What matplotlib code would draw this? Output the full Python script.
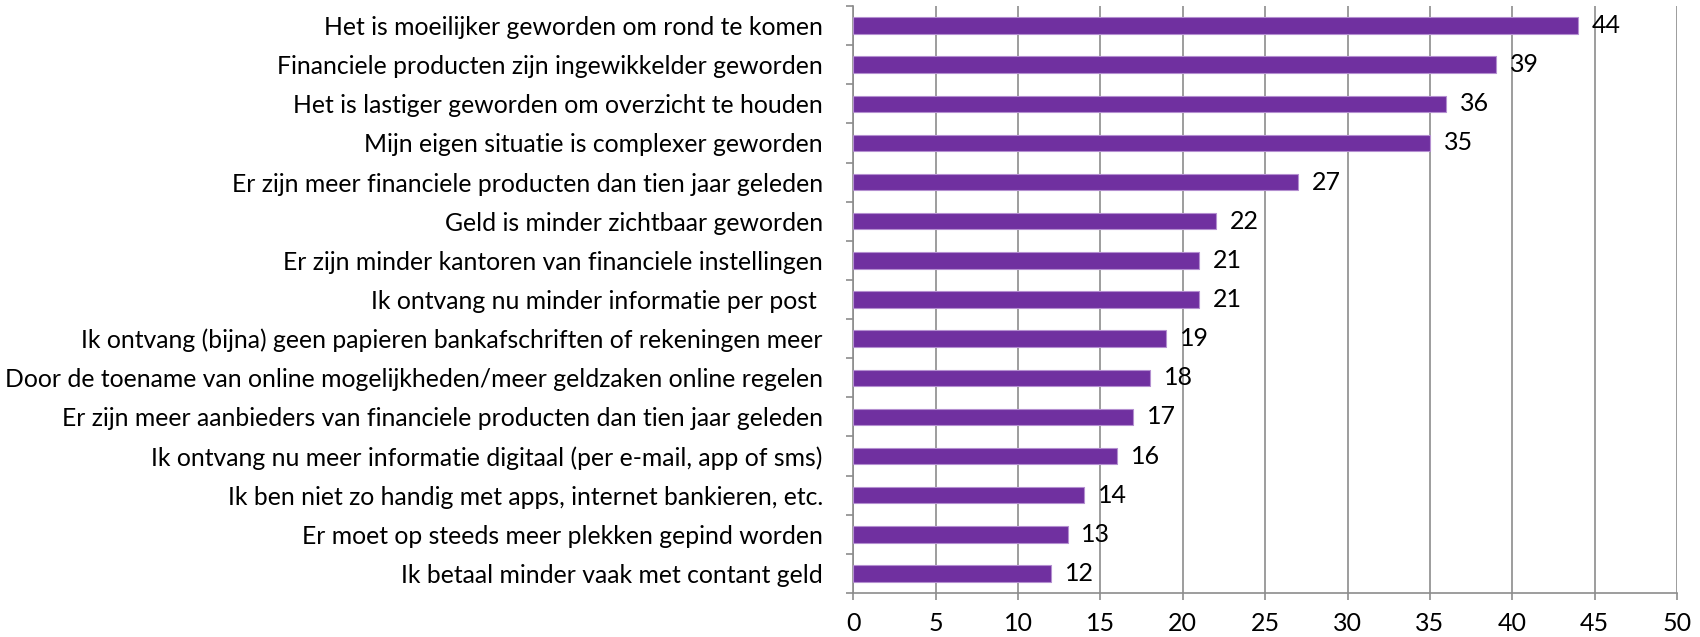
import numpy as np
import matplotlib.pyplot as plt

labels = [
    "Het is moeilijker geworden om rond te komen",
    "Financiele producten zijn ingewikkelder geworden",
    "Het is lastiger geworden om overzicht te houden",
    "Mijn eigen situatie is complexer geworden",
    "Er zijn meer financiele producten dan tien jaar geleden",
    "Geld is minder zichtbaar geworden",
    "Er zijn minder kantoren van financiele instellingen",
    "Ik ontvang nu minder informatie per post ",
    "Ik ontvang (bijna) geen papieren bankafschriften of rekeningen meer",
    "Door de toename van online mogelijkheden/meer geldzaken online regelen",
    "Er zijn meer aanbieders van financiele producten dan tien jaar geleden",
    "Ik ontvang nu meer informatie digitaal (per e-mail, app of sms)",
    "Ik ben niet zo handig met apps, internet bankieren, etc.",
    "Er moet op steeds meer plekken gepind worden",
    "Ik betaal minder vaak met contant geld",
]
values = [44, 39, 36, 35, 27, 22, 21, 21, 19, 18, 17, 16, 14, 13, 12]
xticks = [0, 5, 10, 15, 20, 25, 30, 35, 40, 45, 50]

plt.rcParams['font.family'] = ['Lato', 'DejaVu Sans']

fig = plt.figure(figsize=(17, 6.37), dpi=100)
ax = fig.add_axes([0.502, 0.069, 0.4845, 0.9216])

y = np.arange(len(labels))
ax.barh(y, values, height=0.42, color='#7030A0', edgecolor='#B48FD0', linewidth=0.8, zorder=3)
for yi, v in zip(y, values):
    ax.annotate(str(v), (v, yi), xytext=(10, 0), textcoords='offset points',
                va='center', ha='left', fontsize=18, color='black')

ax.set_ylim(len(labels) - 0.5, -0.5)
ax.set_xlim(0, 50)
ax.set_xticks(xticks)
ax.set_xticklabels([str(t) for t in xticks], fontsize=18)
ax.set_yticks(y)
ax.set_yticklabels(labels, fontsize=17.8)
ax.tick_params(axis='y', length=0, pad=22)
ax.set_yticks(np.arange(len(labels) + 1) - 0.5, minor=True)
ax.tick_params(axis='y', which='minor', length=5, color='#8c8c8c', width=1.2)
ax.tick_params(axis='x', length=5, color='#8c8c8c', width=1.2, pad=9)

ax.grid(axis='x', color='#8c8c8c', linewidth=1.2, zorder=0)
for s in ['top', 'right']:
    ax.spines[s].set_visible(False)
for s in ['left', 'bottom']:
    ax.spines[s].set_color('#8c8c8c')
    ax.spines[s].set_linewidth(1.2)

fig.savefig('out.png')
